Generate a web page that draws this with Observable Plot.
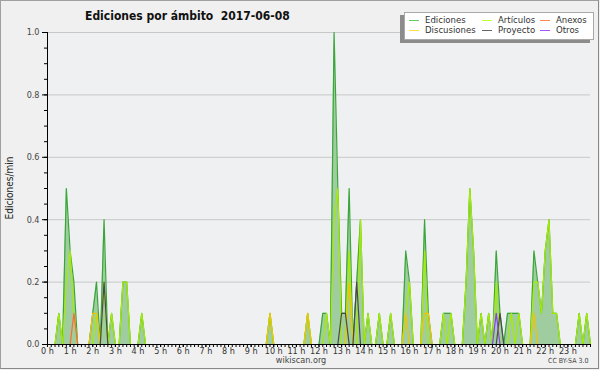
<!DOCTYPE html>
<html><head><meta charset="utf-8">
<script src="https://cdn.jsdelivr.net/npm/d3@7"></script>
<script src="https://cdn.jsdelivr.net/npm/@observablehq/plot@0.6"></script>
<style>
html,body{margin:0;padding:0;background:#fff}
#wrap{position:relative;width:600px;height:370px;background:#f0f0f0;overflow:hidden;
  font-family:"DejaVu Sans Condensed","DejaVu Sans",sans-serif;font-stretch:condensed;color:#333}
#wrap svg{position:absolute;left:0;top:0;font-stretch:condensed}
.t{position:absolute;white-space:pre;line-height:1}
#border{position:absolute;left:0;top:0;width:597px;height:367px;border:1px solid #a0a0a0;border-right-color:#888;border-bottom-color:#888}
#legend{position:absolute;left:404px;top:12px;width:188px;height:26px;background:#fff;border:1px solid #a8a8a8;box-shadow:-4px 3px 0 #8c8c8c}
.li{position:absolute;font-size:9.5px;line-height:8px;white-space:pre;color:#333}
.ls{position:absolute;height:0;border-top:1.2px solid}
</style></head><body><div id="wrap"></div><script>
// 10-minute slots ("HH:MM" start) with editions per minute
const ediciones = [["00:30",0.1],["00:50",0.5],["01:00",0.3],["01:10",0.2],["02:00",0.1],["02:10",0.2],["02:30",0.4],["02:50",0.1],["03:20",0.2],["03:30",0.2],["04:10",0.1],["09:50",0.1],["11:30",0.1],["12:10",0.1],["12:20",0.1],["12:40",1.0],["12:50",0.5],["13:00",0.1],["13:10",0.1],["13:20",0.5],["13:40",0.2],["13:50",0.4],["14:10",0.1],["14:40",0.1],["15:10",0.1],["15:50",0.3],["16:00",0.2],["16:40",0.4],["16:50",0.1],["17:30",0.1],["17:40",0.1],["17:50",0.1],["18:30",0.2],["18:40",0.5],["18:50",0.3],["19:10",0.1],["19:30",0.1],["19:50",0.3],["20:00",0.1],["20:20",0.1],["20:30",0.1],["20:40",0.1],["20:50",0.1],["21:30",0.3],["21:40",0.2],["21:50",0.1],["22:00",0.3],["22:10",0.4],["22:20",0.1],["22:30",0.1],["23:30",0.1],["23:50",0.1]];
const articulos = [["00:30",0.1],["00:50",0.2],["01:00",0.3],["01:10",0.1],["02:10",0.1],["02:30",0.2],["02:50",0.1],["03:20",0.2],["03:30",0.2],["04:10",0.1],["09:50",0.1],["11:30",0.1],["12:20",0.1],["12:40",0.4],["12:50",0.5],["13:20",0.3],["13:50",0.4],["14:10",0.1],["14:40",0.1],["15:10",0.1],["15:50",0.1],["16:00",0.2],["16:40",0.3],["17:30",0.1],["17:50",0.1],["18:30",0.2],["18:40",0.5],["18:50",0.3],["19:10",0.1],["19:30",0.1],["19:50",0.2],["20:30",0.1],["20:50",0.1],["21:30",0.2],["21:40",0.2],["21:50",0.1],["22:00",0.3],["22:10",0.4],["22:20",0.1],["22:30",0.1],["23:30",0.1],["23:50",0.1]];
const discusiones = [["02:00",0.1],["02:10",0.1],["09:50",0.1],["11:30",0.1],["13:20",0.2],["15:50",0.1],["16:40",0.1],["16:50",0.1],["21:30",0.1]];
const proyecto = [["02:30",0.2],["13:00",0.1],["13:10",0.1],["13:40",0.2],["20:00",0.1]];
const anexos = [["01:10",0.1]];
const otros = [["19:50",0.1]];

const seriesNames = ["Ediciones","Artículos","Anexos","Discusiones","Proyecto","Otros"];
const seriesColors = ["#3aa63a","#a6ec00","#ff6a30","#f2c400","#4a4a4a","#8a3cff"];
const legendColors = ["#6c6","#bf3","#f85","#fd4","#666","#a5f"];
const yMajor = [0,0.2,0.4,0.6,0.8,1.0];
const yMinor = d3.range(0,21).map(i=>i*0.05);
const hourTicks = d3.range(0,24);
const slotTicks = d3.range(0,145).map(i=>i/6);
const title = "Ediciones por ámbito  2017-06-08";
const yLabel = "Ediciones/min";

function expand(pairs){
  const v = new Array(145).fill(0);
  for (const [t,val] of pairs){ const [h,m]=t.split(":").map(Number); v[h*6+m/10]=val; }
  return v.map((y,i)=>({x:i/6,y}));
}
const dEd = expand(ediciones), dArt = expand(articulos), dDis = expand(discusiones),
      dPro = expand(proyecto), dAnx = expand(anexos), dOtr = expand(otros);

const FONT = '"DejaVu Sans Condensed","DejaVu Sans",sans-serif';
const line = (d,c)=>Plot.lineY(d,{x:"x",y:"y",stroke:c,strokeWidth:1.2});
const chart = Plot.plot({
  width:600, height:370,
  marginLeft:47, marginRight:10, marginTop:32, marginBottom:26,
  style:{background:"transparent", fontFamily:FONT, fontSize:"9px", color:"#000"},
  x:{domain:[0,24], axis:null},
  y:{domain:[0,1], axis:null},
  marks:[
    Plot.frame({fill:"#eef0f2", stroke:null}),
    Plot.gridY(yMajor.slice(1), {stroke:"#c8c8c8", strokeOpacity:1}),
    Plot.areaY(dEd,{x:"x",y:"y",fill:"#9fcd9f"}),
    line(dEd, seriesColors[0]),
    line(dArt, seriesColors[1]),
    line(dDis, seriesColors[3]),
    line(dAnx, seriesColors[2]),
    line(dPro, seriesColors[4]),
    line(dOtr, seriesColors[5]),
    Plot.ruleY([0],{stroke:"#000"}),
    Plot.ruleX([0],{stroke:"#000"}),
    Plot.axisY(yMinor,{anchor:"left", label:null, tickSize:3, tickFormat:()=>""}),
    Plot.axisY(yMajor,{anchor:"left", label:null, tickSize:5, tickPadding:3, tickFormat:d=>d.toFixed(1), fill:"#444"}),
    Plot.axisX(slotTicks,{anchor:"bottom", label:null, tickSize:3, tickFormat:()=>""}),
    Plot.axisX(hourTicks,{anchor:"bottom", label:null, tickSize:3, tickPadding:0, tickFormat:d=>`${d} h`, fill:"#333"})
  ]
});
const wrap = document.getElementById("wrap");
wrap.appendChild(chart);

function addText(txt, css){ const e=document.createElement("div"); e.className="t"; e.textContent=txt; Object.assign(e.style, css); wrap.appendChild(e); return e; }
addText(title,{left:"85px",top:"10px",fontSize:"12px",fontWeight:"bold",color:"#111"});
addText(yLabel,{left:"10px",top:"188px",fontSize:"10px",transform:"translate(-50%,-50%) rotate(-90deg)",color:"#222"});
addText("wikiscan.org",{left:"301px",top:"356px",fontSize:"9px",transform:"translateX(-50%)",color:"#444"});
addText("CC BY-SA 3.0",{left:"548px",top:"358px",fontSize:"7px",color:"#444"});

const legend = document.createElement("div"); legend.id="legend"; wrap.appendChild(legend);
const cols = [[4,20],[77,93],[135,151]];
seriesNames.forEach((n,i)=>{
  const col = i%3, row = Math.floor(i/3);
  const s = document.createElement("div"); s.className="ls";
  Object.assign(s.style,{left:cols[col][0]+"px", width:"10px", top:(7+row*10)+"px", borderTopColor:legendColors[i]});
  legend.appendChild(s);
  const t = document.createElement("div"); t.className="li"; t.textContent=n;
  Object.assign(t.style,{left:cols[col][1]+"px", top:(3+row*10)+"px"});
  legend.appendChild(t);
});
const b = document.createElement("div"); b.id="border"; wrap.appendChild(b);
</script></body></html>
